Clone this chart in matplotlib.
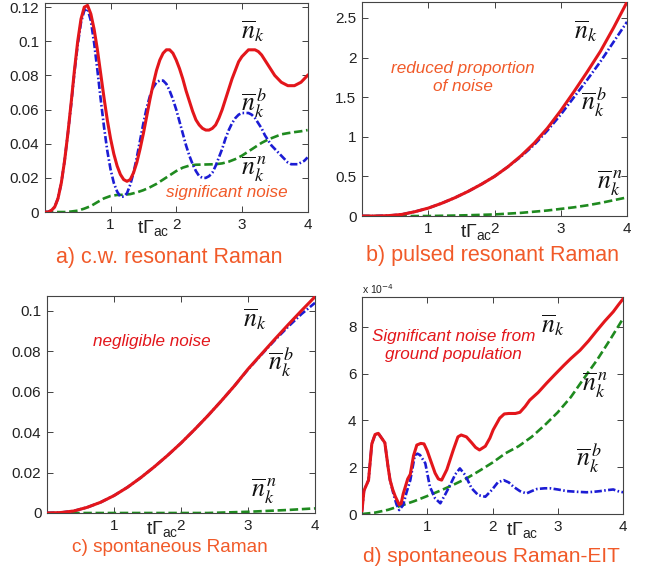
import matplotlib
matplotlib.use("Agg")
import matplotlib.pyplot as plt
import numpy as np
from matplotlib.ticker import FuncFormatter

plt.rcParams["font.family"] = ["Liberation Sans", "DejaVu Sans"]

# ---- panel a: c.w. resonant Raman ----
t_a = np.round(np.arange(0, 4.001, 0.05), 2)   # 81 points
a_total = [0, 0, 0.001, 0.003, 0.008, 0.017, 0.030, 0.046, 0.064, 0.083,
           0.100, 0.113, 0.120, 0.121, 0.116, 0.107, 0.095, 0.081, 0.067, 0.054,
           0.043, 0.034, 0.027, 0.022, 0.019, 0.018, 0.019, 0.023, 0.029, 0.037,
           0.046, 0.056, 0.066, 0.075, 0.083, 0.089, 0.093, 0.095, 0.095, 0.093,
           0.089, 0.084, 0.078, 0.071, 0.065, 0.059, 0.054, 0.051, 0.049, 0.048,
           0.048, 0.049, 0.051, 0.055, 0.060, 0.066, 0.072, 0.078, 0.083, 0.088,
           0.091, 0.093, 0.095, 0.095, 0.095, 0.094, 0.092, 0.089, 0.086, 0.083,
           0.080, 0.078, 0.076, 0.075, 0.074, 0.074, 0.074, 0.075, 0.076, 0.078,
           0.080]
a_bright = [0, 0, 0.001, 0.003, 0.008, 0.017, 0.030, 0.046, 0.063, 0.082,
            0.098, 0.111, 0.118, 0.119, 0.112, 0.099, 0.083, 0.066, 0.050, 0.036,
            0.025, 0.017, 0.012, 0.009, 0.009, 0.011, 0.016, 0.023, 0.032, 0.042,
            0.052, 0.061, 0.068, 0.073, 0.076, 0.077, 0.077, 0.075, 0.071, 0.066,
            0.060, 0.053, 0.046, 0.039, 0.033, 0.028, 0.024, 0.021, 0.020, 0.020,
            0.021, 0.023, 0.027, 0.032, 0.037, 0.043, 0.048, 0.052, 0.055, 0.057,
            0.058, 0.058, 0.058, 0.057, 0.055, 0.052, 0.049, 0.045, 0.042, 0.039,
            0.037, 0.035, 0.033, 0.031, 0.029, 0.028, 0.028, 0.028, 0.029, 0.030,
            0.032]
t_a_noise = np.round(np.arange(0, 4.001, 0.1), 2)
a_noise = [0, 0, 0, 0, 0.0003, 0.0008, 0.002, 0.0035, 0.0058, 0.008,
           0.0094, 0.0100, 0.0101, 0.0105, 0.0115, 0.0128, 0.0145, 0.0165, 0.019, 0.0215,
           0.024, 0.026, 0.0272, 0.0277, 0.0278, 0.0279, 0.028, 0.0285, 0.0295, 0.031,
           0.033, 0.0355, 0.038, 0.0405, 0.0425, 0.044, 0.0455, 0.0462, 0.0468, 0.0473,
           0.048]

# ---- panel b: pulsed resonant Raman (step 0.2) ----
t_b = np.round(np.arange(0, 4.001, 0.2), 2)
b_total = [0, 0.0, 0.005, 0.02, 0.055, 0.10, 0.16, 0.23, 0.31, 0.40, 0.50,
           0.62, 0.76, 0.92, 1.11, 1.33, 1.57, 1.82, 2.08, 2.38, 2.70]
b_bright = [0, 0.0, 0.005, 0.02, 0.055, 0.10, 0.16, 0.23, 0.31, 0.40, 0.50,
            0.62, 0.75, 0.90, 1.08, 1.28, 1.50, 1.72, 1.95, 2.20, 2.45]
b_noise = [0, 0, 0, 0, 0, 0, 0.003, 0.006, 0.01, 0.015, 0.02,
           0.03, 0.04, 0.055, 0.07, 0.09, 0.11, 0.135, 0.165, 0.20, 0.235]

# ---- panel c: spontaneous Raman (step 0.2) ----
t_c = np.round(np.arange(0, 4.001, 0.2), 2)
c_total = [0, 0.0002, 0.001, 0.0028, 0.0053, 0.0086, 0.0127, 0.0175, 0.0228, 0.0285,
           0.0346, 0.0412, 0.0481, 0.0554, 0.0630, 0.0712, 0.0786, 0.0860, 0.0932,
           0.1002, 0.1070]
c_bright = [0, 0.0002, 0.001, 0.0028, 0.0053, 0.0086, 0.0127, 0.0175, 0.0228, 0.0285,
            0.0346, 0.0412, 0.0481, 0.0554, 0.0630, 0.0710, 0.0784, 0.0855, 0.0922,
            0.0985, 0.1040]
c_noise = [0, 0, 0, 0, 0, 0, 0, 0, 0, 0, 0, 0, 0, 0.0002, 0.0004,
           0.0006, 0.0009, 0.0012, 0.0015, 0.0019, 0.0023]

# ---- panel d: spontaneous Raman-EIT (values in units of 1e-4) ----
t_d_total = [0.00, 0.03, 0.10, 0.15, 0.20, 0.25, 0.30, 0.35, 0.40, 0.43, 0.47, 0.51,
             0.57, 0.60, 0.63, 0.70, 0.74, 0.79, 0.84, 0.90, 0.95, 1.00, 1.05, 1.12,
             1.17, 1.22, 1.30, 1.40, 1.47, 1.52, 1.60, 1.68, 1.74, 1.80, 1.89, 1.96,
             2.01, 2.11, 2.18, 2.25, 2.35, 2.42, 2.50, 2.57, 2.70, 2.83, 2.95, 3.09,
             3.20, 3.34, 3.47, 3.60, 3.72, 3.85, 3.93, 4.00]
d_total = [0.15, 1.0, 1.45, 3.0, 3.4, 3.45, 3.25, 3.05, 2.0, 1.45, 1.05, 0.75,
           0.4, 0.45, 0.85, 1.5, 1.7, 2.5, 2.95, 3.02, 3.0, 2.7, 2.3, 1.75,
           1.5, 1.45, 1.9, 2.75, 3.3, 3.38, 3.3, 3.05, 2.85, 2.74, 2.9, 3.25,
           3.6, 4.1, 4.28, 4.3, 4.3, 4.35, 4.6, 4.87, 5.2, 5.6, 5.95, 6.35,
           6.65, 7.0, 7.4, 7.85, 8.25, 8.65, 8.95, 9.2]
t_d_bright = [0.00, 0.03, 0.10, 0.15, 0.20, 0.25, 0.30, 0.35, 0.40, 0.43, 0.48, 0.53,
              0.57, 0.63, 0.68, 0.74, 0.81, 0.85, 0.89, 0.97, 1.04, 1.12, 1.20, 1.27,
              1.35, 1.43, 1.50, 1.58, 1.68, 1.78, 1.89, 1.99, 2.08, 2.17, 2.25, 2.32,
              2.42, 2.52, 2.60, 2.68, 2.80, 2.88, 3.00, 3.14, 3.30, 3.44, 3.55, 3.65,
              3.75, 3.85, 3.92, 4.00]
d_bright = [0.15, 1.0, 1.45, 3.0, 3.4, 3.45, 3.25, 3.05, 2.0, 1.45, 0.88, 0.4,
            0.17, 0.38, 0.9, 1.45, 2.52, 2.58, 2.52, 2.17, 1.17, 0.67, 0.46, 0.81,
            1.24, 1.7, 1.95, 1.67, 1.1, 0.81, 0.74, 1.03, 1.35, 1.45, 1.35, 1.17,
            0.98, 0.88, 0.98, 1.07, 1.1, 1.1, 1.05, 0.98, 0.95, 0.93, 0.95, 0.98,
            1.02, 1.05, 0.98, 0.93]
t_d_noise = np.round(np.arange(0, 4.001, 0.2), 2)
d_noise = [0.0, 0.06, 0.18, 0.36, 0.55, 0.77, 1.0, 1.25, 1.52, 1.85, 2.2,
           2.6, 2.9, 3.3, 3.8, 4.35, 5.0, 5.8, 6.58, 7.45, 8.36]

RED = "#e3161b"
BLUE = "#1c1cd4"
GREEN = "#1f8a1f"
ORANGE = "#f15a29"

fig = plt.figure(figsize=(6.6, 5.7), dpi=100)


def make_axes(rect, ylim, yticks):
    ax = fig.add_axes(rect)
    ax.set_xlim(0, 4)
    ax.set_ylim(*ylim)
    ax.set_xticks([1, 2, 3, 4])
    ax.set_yticks(yticks)
    ax.yaxis.set_major_formatter(FuncFormatter(lambda v, p: "%g" % v))
    ax.tick_params(direction="in", top=True, right=True, length=4, width=0.6,
                   labelsize=11, pad=4, colors="#222222")
    for s in ax.spines.values():
        s.set_linewidth(0.8)
        s.set_color("#444444")
    return ax


def draw(ax, tt, tot, tb, bri, tn, noi):
    ax.plot(tn, noi, color=GREEN, lw=1.9, ls=(0, (3.2, 1.4)), zorder=2)
    ax.plot(tb, bri, color=BLUE, lw=1.9, ls=(0, (2.8, 0.9, 0.6, 0.9)), zorder=3)
    ax.plot(tt, tot, color=RED, lw=2.2, zorder=4)


def nlabel(ax, x, y, sup=None):
    s = r"$\overline{n}_k$" if sup is None else r"$\overline{n}_k^{\,%s}$" % sup
    ax.text(x, y, s, fontsize=18.5, math_fontfamily="stix", color="#111111",
            ha="left", va="center")


def tlabel(ax, x):
    ax.annotate(r"$\mathregular{t\Gamma_{ac}}$", xy=(x, 0), xycoords=("data", "axes fraction"),
                xytext=(-2, -6), textcoords="offset pixels", ha="left", va="top",
                fontsize=14, color="#222222")


note = dict(fontsize=12.3, style="italic", va="center", linespacing=1.2)

# a)
ax = make_axes([0.068, 0.628, 0.398, 0.367], (0, 0.1225), np.arange(0, 0.121, 0.02))
draw(ax, t_a, a_total, t_a, a_bright, t_a_noise, a_noise)
nlabel(ax, 2.98, 0.106)
nlabel(ax, 2.98, 0.064, "b")
nlabel(ax, 2.98, 0.025, "n")
ax.text(1.85, 0.0115, "significant noise", color=ORANGE, ha="left", **note)
tlabel(ax, 1.44)

# b)
ax = make_axes([0.5485, 0.621, 0.4015, 0.3754], (0, 2.7), [0, 0.5, 1, 1.5, 2, 2.5])
draw(ax, t_b, b_total, t_b, b_bright, t_b, b_noise)
nlabel(ax, 3.2, 2.33)
nlabel(ax, 3.3, 1.45, "b")
nlabel(ax, 3.55, 0.42, "n")
ax.text(1.52, 1.75, "reduced proportion\nof noise", color=ORANGE, ha="center",
        multialignment="center", **note)
tlabel(ax, 1.51)

# c)
ax = make_axes([0.0712, 0.1, 0.406, 0.3807], (0, 0.1074), np.arange(0, 0.101, 0.02))
draw(ax, t_c, c_total, t_c, c_bright, t_c, c_noise)
nlabel(ax, 2.93, 0.096)
nlabel(ax, 3.3, 0.075, "b")
nlabel(ax, 3.05, 0.011, "n")
ax.text(0.69, 0.085, "negligible noise", color=RED, ha="left", **note)
tlabel(ax, 1.51)

# d)
ax = make_axes([0.5485, 0.0982, 0.3955, 0.3807], (0, 9.28), [0, 2, 4, 6, 8])
draw(ax, t_d_total, d_total, t_d_bright, d_bright, t_d_noise, d_noise)
nlabel(ax, 2.75, 8.1)
nlabel(ax, 3.37, 5.5, "n")
nlabel(ax, 3.28, 2.4, "b")
ax.text(1.4, 7.2, "Significant noise from\nground population", color=RED, ha="center",
        multialignment="center", **note)
ax.text(0, 1.005, r"x 10$^{-4}$", transform=ax.transAxes, fontsize=7.5,
        color="#222222", ha="left", va="bottom")
tlabel(ax, 2.24)

# captions
cap = dict(color=ORANGE, ha="center", va="center")
fig.text(169 / 660, 1 - 257 / 570, "a) c.w. resonant Raman", fontsize=15.5, **cap)
fig.text(492 / 660, 1 - 255 / 570, "b) pulsed resonant Raman", fontsize=15.5, **cap)
fig.text(170 / 660, 1 - 547 / 570, "c) spontaneous Raman", fontsize=13.7, **cap)
fig.text(491 / 660, 1 - 557 / 570, "d) spontaneous Raman-EIT", fontsize=15, **cap)

fig.savefig("out.png", dpi=100)
